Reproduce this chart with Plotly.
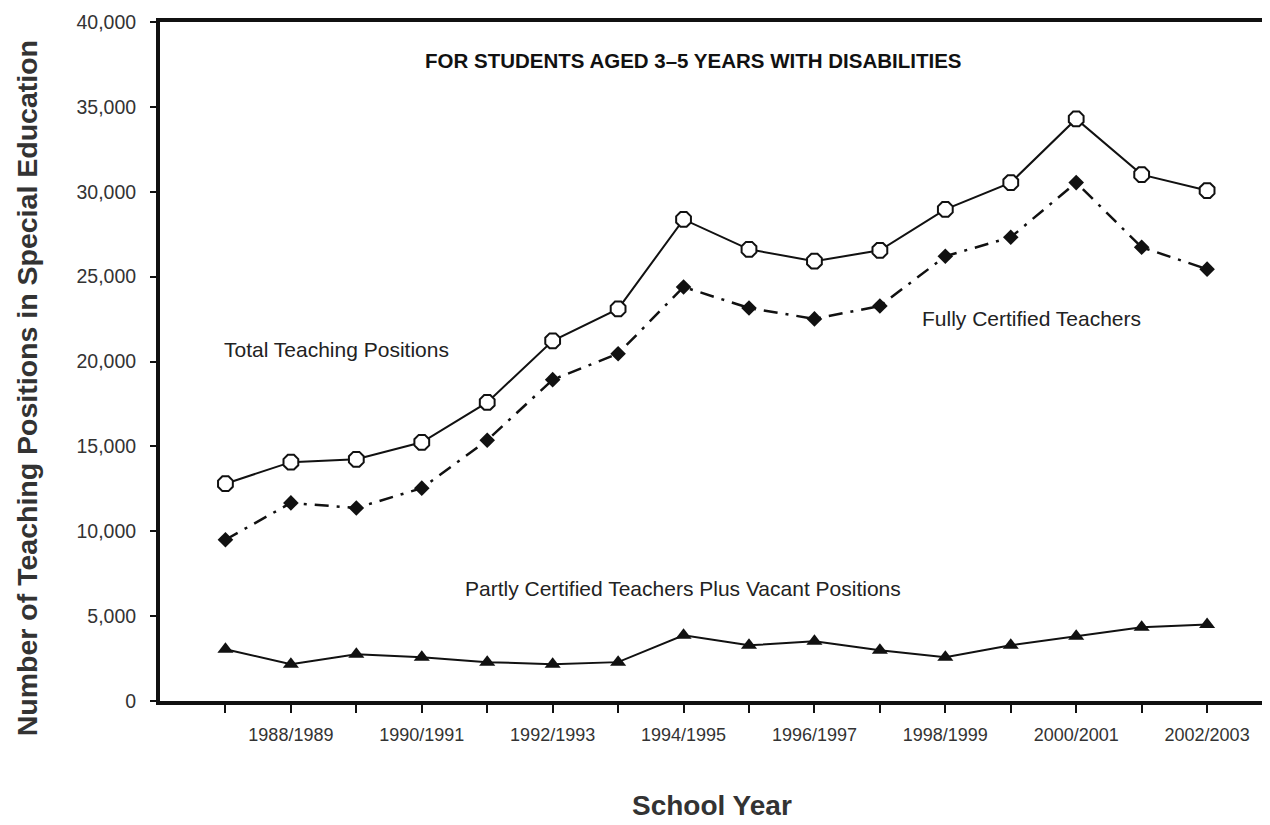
import plotly.graph_objects as go

school_years = ["1987/1988", "1988/1989", "1989/1990", "1990/1991", "1991/1992",
                "1992/1993", "1993/1994", "1994/1995", "1995/1996", "1996/1997",
                "1997/1998", "1998/1999", "1999/2000", "2000/2001", "2001/2002",
                "2002/2003"]
tick_labels = ["", "1988/1989", "", "1990/1991", "", "1992/1993", "", "1994/1995", "",
               "1996/1997", "", "1998/1999", "", "2000/2001", "", "2002/2003"]

total_positions = [12800, 14070, 14240, 15240, 17590, 21220, 23100, 28370,
                   26610, 25910, 26550, 28960, 30540, 34290, 31010, 30070]
fully_certified = [9500, 11670, 11370, 12540, 15360, 18930, 20460, 24390,
                   23150, 22510, 23270, 26200, 27320, 30540, 26730, 25440]
partly_vacant = [3050, 2170, 2760, 2580, 2290, 2170, 2290, 3870,
                 3280, 3520, 2990, 2580, 3280, 3810, 4340, 4510]

FONT = "Liberation Sans, Arial, sans-serif"

fig = go.Figure()
fig.add_trace(go.Scatter(
    x=school_years, y=partly_vacant, mode="lines+markers",
    line=dict(color="#111", width=2),
    marker=dict(symbol="triangle-up", size=14, color="#111"),
    name="Partly Certified Teachers Plus Vacant Positions"))
fig.add_trace(go.Scatter(
    x=school_years, y=fully_certified, mode="lines+markers",
    line=dict(color="#111", width=2.5, dash="14px,8px,3px,8px"),
    marker=dict(symbol="diamond", size=12, color="#111"),
    name="Fully Certified Teachers"))
fig.add_trace(go.Scatter(
    x=school_years, y=total_positions, mode="lines+markers",
    line=dict(color="#111", width=2),
    marker=dict(symbol="octagon", size=16, color="white",
                line=dict(color="#111", width=2)),
    name="Total Teaching Positions"))

fig.update_layout(
    width=1262, height=817,
    margin=dict(l=152, r=4, t=14, b=124),
    paper_bgcolor="white", plot_bgcolor="white",
    showlegend=False,
    font=dict(family=FONT, color="#333"),
    xaxis=dict(
        type="category", categoryorder="array", categoryarray=school_years,
        range=[-1.0, 15.9], automargin=False,
        tickmode="array", tickvals=school_years, ticktext=tick_labels,
        ticks="outside", ticklen=8, tickwidth=2, tickcolor="#111",
        ticklabelstandoff=6,
        tickfont=dict(size=18, color="#333", family=FONT),
        showline=True, linewidth=4, linecolor="#111", mirror=True,
        showgrid=False, zeroline=False),
    yaxis=dict(
        range=[0, 40000], automargin=False,
        tickvals=[0, 5000, 10000, 15000, 20000, 25000, 30000, 35000, 40000],
        tickformat=",d",
        ticks="outside", ticklen=6, tickwidth=2, tickcolor="#111",
        ticklabelstandoff=10,
        tickfont=dict(size=19.5, color="#333", family=FONT),
        showline=True, linewidth=4, linecolor="#111", mirror=True,
        showgrid=False, zeroline=False),
    annotations=[
        dict(text="<b>FOR STUDENTS AGED 3–5 YEARS WITH DISABILITIES</b>",
             xref="paper", yref="paper", x=0.482, y=0.9426, showarrow=False,
             xanchor="center", yanchor="middle",
             font=dict(size=20.5, color="#111", family=FONT)),
        dict(text="Total Teaching Positions", xref="paper", yref="paper",
             x=0.056, y=0.518, xanchor="left", yanchor="middle", showarrow=False,
             font=dict(size=21, color="#222", family=FONT)),
        dict(text="Fully Certified Teachers", xref="paper", yref="paper",
             x=0.687, y=0.564, xanchor="left", yanchor="middle", showarrow=False,
             font=dict(size=21, color="#222", family=FONT)),
        dict(text="Partly Certified Teachers Plus Vacant Positions", xref="paper", yref="paper",
             x=0.274, y=0.166, xanchor="left", yanchor="middle", showarrow=False,
             font=dict(size=21, color="#222", family=FONT)),
        dict(text="<b>Number of Teaching Positions in Special Education</b>",
             xref="paper", yref="paper", x=-0.120, y=0.461, textangle=-90,
             xanchor="center", yanchor="middle",
             showarrow=False, font=dict(size=28.5, color="#333", family=FONT)),
        dict(text="<b>School Year</b>", xref="paper", yref="paper",
             x=0.499, y=-0.154, xanchor="center", yanchor="middle", showarrow=False,
             font=dict(size=28, color="#333", family=FONT)),
    ],
)

fig.write_html("out.html")
